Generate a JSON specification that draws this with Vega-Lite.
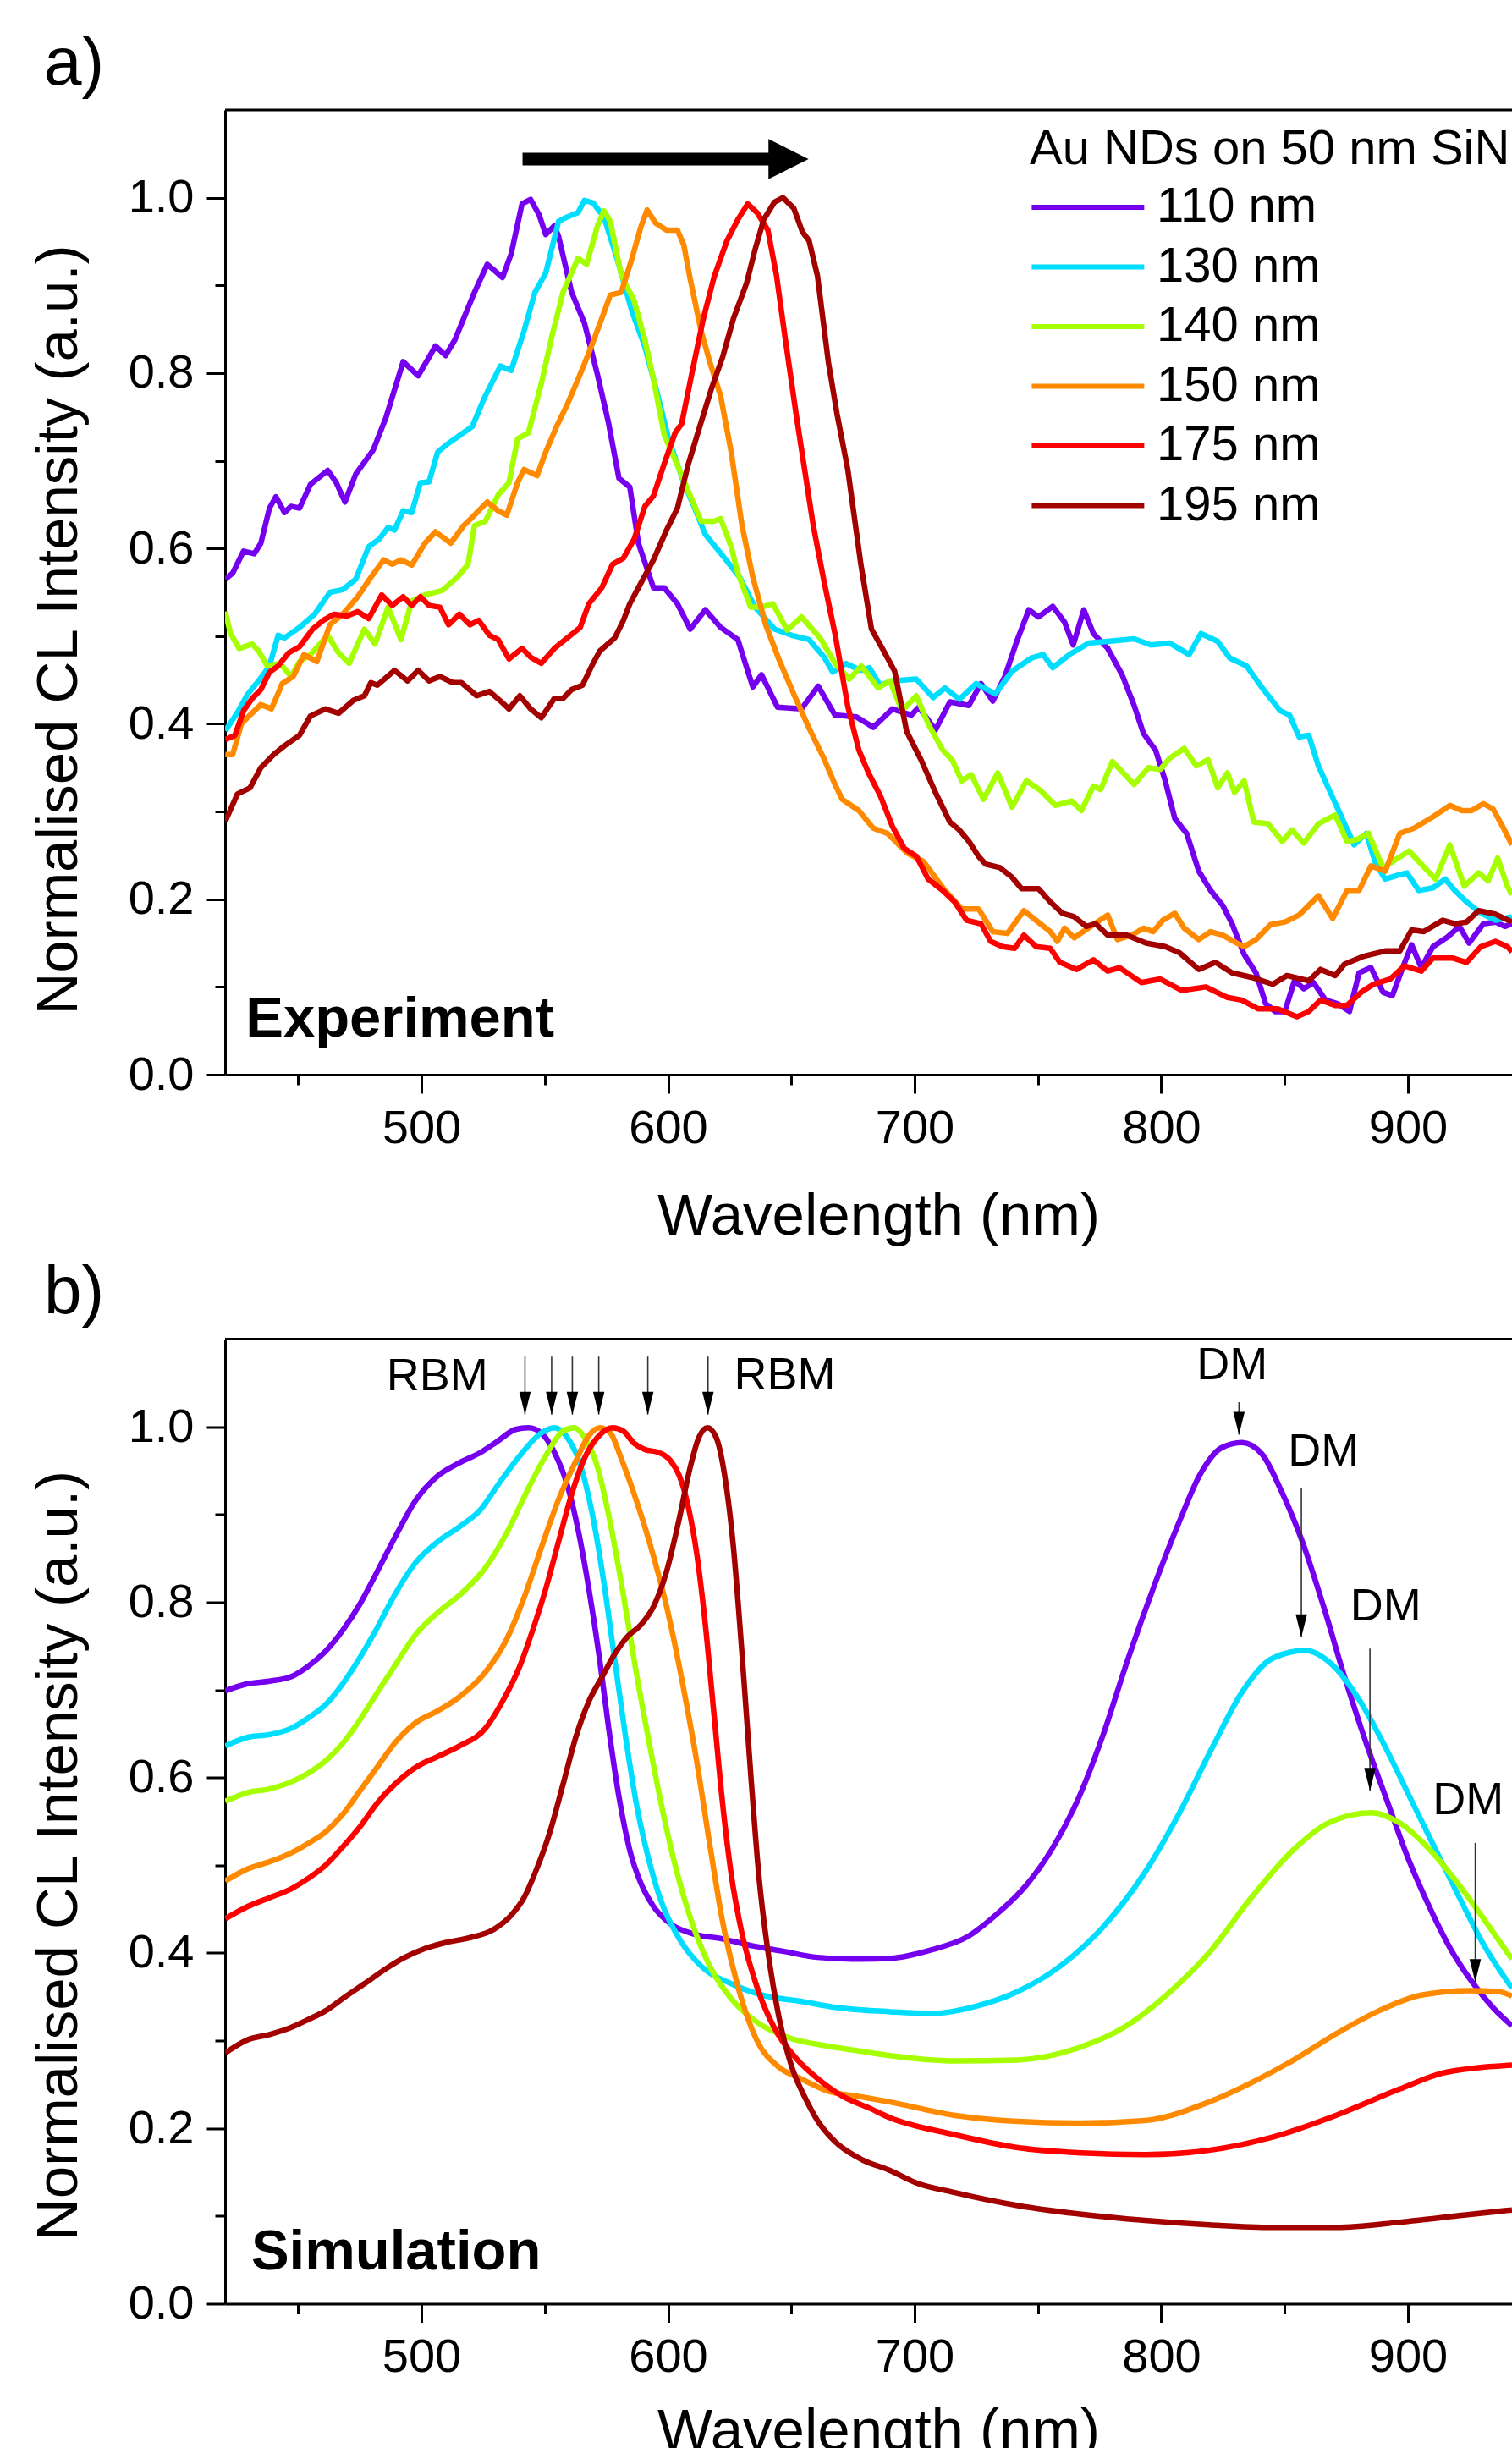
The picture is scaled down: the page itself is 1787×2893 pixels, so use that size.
{
"$schema":"https://vega.github.io/schema/vega-lite/v6.json",
"background":"white",
"padding":{"left":35,"top":36,"right":0,"bottom":0},
"config":{"font":"Liberation Sans","view":{"stroke":null},"concat":{"spacing":15.5},
"axis":{"domainColor":"black","domainWidth":3,"tickColor":"black","tickWidth":3,"labelColor":"black","titleColor":"black","labelFontSize":56,"titleFontSize":69,"titleFontWeight":"normal","grid":false,"labelFont":"Liberation Sans","titleFont":"Liberation Sans"},
"title":{"color":"black","font":"Liberation Sans"}},
"resolve":{"scale":{"color":"independent","x":"independent","y":"independent"},"legend":{"color":"independent"}},
"datasets":{
"expt":[
{"s":"110 nm","x":420.5,"y":0.565},{"s":"110 nm","x":423.5,"y":0.572},{"s":"110 nm","x":427.9,"y":0.597},{"s":"110 nm","x":432.2,"y":0.594},{"s":"110 nm","x":434.9,"y":0.606},{"s":"110 nm","x":438.4,"y":0.646},{"s":"110 nm","x":441,"y":0.659},{"s":"110 nm","x":444.5,"y":0.641},{"s":"110 nm","x":447.1,"y":0.648},{"s":"110 nm","x":450.6,"y":0.646},{"s":"110 nm","x":455,"y":0.673},{"s":"110 nm","x":462,"y":0.689},{"s":"110 nm","x":465.5,"y":0.675},{"s":"110 nm","x":469,"y":0.653},{"s":"110 nm","x":473.4,"y":0.685},{"s":"110 nm","x":480.4,"y":0.712},{"s":"110 nm","x":485.6,"y":0.749},{"s":"110 nm","x":492.6,"y":0.813},{"s":"110 nm","x":498.7,"y":0.797},{"s":"110 nm","x":503.1,"y":0.818},{"s":"110 nm","x":505.7,"y":0.831},{"s":"110 nm","x":509.8,"y":0.82},{"s":"110 nm","x":513.6,"y":0.838},{"s":"110 nm","x":521.5,"y":0.892},{"s":"110 nm","x":526.7,"y":0.924},{"s":"110 nm","x":532.9,"y":0.909},{"s":"110 nm","x":536.4,"y":0.936},{"s":"110 nm","x":540.8,"y":0.993},{"s":"110 nm","x":544.3,"y":0.998},{"s":"110 nm","x":547.8,"y":0.98},{"s":"110 nm","x":550.4,"y":0.958},{"s":"110 nm","x":553.9,"y":0.968},{"s":"110 nm","x":555.6,"y":0.956},{"s":"110 nm","x":560.9,"y":0.892},{"s":"110 nm","x":566.1,"y":0.857},{"s":"110 nm","x":571.4,"y":0.798},{"s":"110 nm","x":575.8,"y":0.744},{"s":"110 nm","x":580.1,"y":0.68},{"s":"110 nm","x":584.5,"y":0.67},{"s":"110 nm","x":588,"y":0.606},{"s":"110 nm","x":594.1,"y":0.555},{"s":"110 nm","x":598.5,"y":0.555},{"s":"110 nm","x":603.8,"y":0.537},{"s":"110 nm","x":609,"y":0.508},{"s":"110 nm","x":615.1,"y":0.53},{"s":"110 nm","x":621.3,"y":0.51},{"s":"110 nm","x":628.3,"y":0.496},{"s":"110 nm","x":634.4,"y":0.442},{"s":"110 nm","x":637.9,"y":0.456},{"s":"110 nm","x":644.4,"y":0.419},{"s":"110 nm","x":654.1,"y":0.417},{"s":"110 nm","x":660.9,"y":0.443},{"s":"110 nm","x":667.7,"y":0.41},{"s":"110 nm","x":676.4,"y":0.408},{"s":"110 nm","x":683.2,"y":0.396},{"s":"110 nm","x":691,"y":0.417},{"s":"110 nm","x":698.7,"y":0.41},{"s":"110 nm","x":701.7,"y":0.419},{"s":"110 nm","x":708.4,"y":0.393},{"s":"110 nm","x":714.3,"y":0.425},{"s":"110 nm","x":722,"y":0.421},{"s":"110 nm","x":726.9,"y":0.446},{"s":"110 nm","x":731.7,"y":0.426},{"s":"110 nm","x":736.6,"y":0.454},{"s":"110 nm","x":741.4,"y":0.494},{"s":"110 nm","x":746.3,"y":0.53},{"s":"110 nm","x":750.2,"y":0.522},{"s":"110 nm","x":756,"y":0.534},{"s":"110 nm","x":760.8,"y":0.516},{"s":"110 nm","x":764.3,"y":0.49},{"s":"110 nm","x":768.6,"y":0.53},{"s":"110 nm","x":772.5,"y":0.503},{"s":"110 nm","x":778.3,"y":0.486},{"s":"110 nm","x":784.1,"y":0.456},{"s":"110 nm","x":789,"y":0.421},{"s":"110 nm","x":792.8,"y":0.389},{"s":"110 nm","x":797.7,"y":0.37},{"s":"110 nm","x":801.6,"y":0.335},{"s":"110 nm","x":805.5,"y":0.292},{"s":"110 nm","x":810.3,"y":0.275},{"s":"110 nm","x":815.2,"y":0.232},{"s":"110 nm","x":820,"y":0.21},{"s":"110 nm","x":824.9,"y":0.193},{"s":"110 nm","x":828.7,"y":0.172},{"s":"110 nm","x":833.6,"y":0.137},{"s":"110 nm","x":838.4,"y":0.116},{"s":"110 nm","x":842.3,"y":0.081},{"s":"110 nm","x":846.2,"y":0.072},{"s":"110 nm","x":850.1,"y":0.072},{"s":"110 nm","x":854,"y":0.107},{"s":"110 nm","x":857.8,"y":0.098},{"s":"110 nm","x":861.7,"y":0.105},{"s":"110 nm","x":866.6,"y":0.085},{"s":"110 nm","x":871.4,"y":0.081},{"s":"110 nm","x":876.3,"y":0.072},{"s":"110 nm","x":880.2,"y":0.116},{"s":"110 nm","x":885,"y":0.122},{"s":"110 nm","x":889.9,"y":0.094},{"s":"110 nm","x":893.7,"y":0.09},{"s":"110 nm","x":897.6,"y":0.12},{"s":"110 nm","x":901.5,"y":0.148},{"s":"110 nm","x":905.4,"y":0.122},{"s":"110 nm","x":910.2,"y":0.146},{"s":"110 nm","x":916.1,"y":0.157},{"s":"110 nm","x":920.9,"y":0.169},{"s":"110 nm","x":924.8,"y":0.15},{"s":"110 nm","x":930.6,"y":0.172},{"s":"110 nm","x":935.5,"y":0.174},{"s":"110 nm","x":939.3,"y":0.169},{"s":"110 nm","x":942.2,"y":0.172},
{"s":"130 nm","x":420.5,"y":0.392},{"s":"130 nm","x":425.2,"y":0.412},{"s":"130 nm","x":429.6,"y":0.434},{"s":"130 nm","x":434,"y":0.449},{"s":"130 nm","x":438.4,"y":0.466},{"s":"130 nm","x":441.9,"y":0.501},{"s":"130 nm","x":444.5,"y":0.498},{"s":"130 nm","x":450.6,"y":0.51},{"s":"130 nm","x":456.7,"y":0.525},{"s":"130 nm","x":462.9,"y":0.55},{"s":"130 nm","x":468.1,"y":0.553},{"s":"130 nm","x":473.4,"y":0.565},{"s":"130 nm","x":478.6,"y":0.602},{"s":"130 nm","x":483,"y":0.611},{"s":"130 nm","x":486.5,"y":0.624},{"s":"130 nm","x":489.1,"y":0.621},{"s":"130 nm","x":492.6,"y":0.643},{"s":"130 nm","x":496.1,"y":0.641},{"s":"130 nm","x":499.6,"y":0.675},{"s":"130 nm","x":503.1,"y":0.676},{"s":"130 nm","x":506.6,"y":0.71},{"s":"130 nm","x":511,"y":0.72},{"s":"130 nm","x":514.5,"y":0.727},{"s":"130 nm","x":520.6,"y":0.739},{"s":"130 nm","x":525.9,"y":0.774},{"s":"130 nm","x":532,"y":0.808},{"s":"130 nm","x":536.4,"y":0.803},{"s":"130 nm","x":541.6,"y":0.848},{"s":"130 nm","x":546,"y":0.892},{"s":"130 nm","x":550.4,"y":0.914},{"s":"130 nm","x":555.6,"y":0.973},{"s":"130 nm","x":559.1,"y":0.978},{"s":"130 nm","x":563.5,"y":0.983},{"s":"130 nm","x":566.1,"y":0.997},{"s":"130 nm","x":569.6,"y":0.994},{"s":"130 nm","x":574,"y":0.978},{"s":"130 nm","x":579.3,"y":0.931},{"s":"130 nm","x":585.4,"y":0.87},{"s":"130 nm","x":590.6,"y":0.83},{"s":"130 nm","x":595.9,"y":0.774},{"s":"130 nm","x":600.3,"y":0.724},{"s":"130 nm","x":606.4,"y":0.675},{"s":"130 nm","x":610.8,"y":0.646},{"s":"130 nm","x":615.1,"y":0.616},{"s":"130 nm","x":622.1,"y":0.592},{"s":"130 nm","x":629.1,"y":0.567},{"s":"130 nm","x":635.3,"y":0.533},{"s":"130 nm","x":643.2,"y":0.508},{"s":"130 nm","x":650.2,"y":0.501},{"s":"130 nm","x":657.2,"y":0.496},{"s":"130 nm","x":663.3,"y":0.476},{"s":"130 nm","x":666.8,"y":0.459},{"s":"130 nm","x":672,"y":0.469},{"s":"130 nm","x":678.2,"y":0.461},{"s":"130 nm","x":681.7,"y":0.464},{"s":"130 nm","x":686,"y":0.444},{"s":"130 nm","x":691,"y":0.449},{"s":"130 nm","x":700.7,"y":0.451},{"s":"130 nm","x":707.5,"y":0.43},{"s":"130 nm","x":712.3,"y":0.441},{"s":"130 nm","x":718.2,"y":0.428},{"s":"130 nm","x":724.9,"y":0.446},{"s":"130 nm","x":732.7,"y":0.434},{"s":"130 nm","x":739.5,"y":0.46},{"s":"130 nm","x":747.3,"y":0.475},{"s":"130 nm","x":752.1,"y":0.479},{"s":"130 nm","x":756,"y":0.464},{"s":"130 nm","x":762.8,"y":0.479},{"s":"130 nm","x":770.5,"y":0.492},{"s":"130 nm","x":778.3,"y":0.494},{"s":"130 nm","x":789,"y":0.497},{"s":"130 nm","x":795.8,"y":0.49},{"s":"130 nm","x":803.5,"y":0.492},{"s":"130 nm","x":811.3,"y":0.479},{"s":"130 nm","x":816.1,"y":0.503},{"s":"130 nm","x":822.9,"y":0.494},{"s":"130 nm","x":827.8,"y":0.475},{"s":"130 nm","x":834.6,"y":0.466},{"s":"130 nm","x":840.4,"y":0.443},{"s":"130 nm","x":848.2,"y":0.415},{"s":"130 nm","x":852,"y":0.41},{"s":"130 nm","x":855.9,"y":0.385},{"s":"130 nm","x":859.8,"y":0.387},{"s":"130 nm","x":863.7,"y":0.352},{"s":"130 nm","x":868.5,"y":0.322},{"s":"130 nm","x":873.4,"y":0.292},{"s":"130 nm","x":878.2,"y":0.262},{"s":"130 nm","x":883.1,"y":0.275},{"s":"130 nm","x":887,"y":0.24},{"s":"130 nm","x":890.8,"y":0.223},{"s":"130 nm","x":896.7,"y":0.228},{"s":"130 nm","x":899.6,"y":0.23},{"s":"130 nm","x":904.4,"y":0.21},{"s":"130 nm","x":910.2,"y":0.213},{"s":"130 nm","x":915.1,"y":0.223},{"s":"130 nm","x":919,"y":0.21},{"s":"130 nm","x":923.8,"y":0.197},{"s":"130 nm","x":929.6,"y":0.184},{"s":"130 nm","x":935.5,"y":0.176},{"s":"130 nm","x":942.2,"y":0.18},
{"s":"140 nm","x":420.5,"y":0.528},{"s":"140 nm","x":422.6,"y":0.503},{"s":"140 nm","x":426.1,"y":0.486},{"s":"140 nm","x":431.4,"y":0.491},{"s":"140 nm","x":434,"y":0.483},{"s":"140 nm","x":437.5,"y":0.466},{"s":"140 nm","x":442.7,"y":0.469},{"s":"140 nm","x":447.1,"y":0.454},{"s":"140 nm","x":450.6,"y":0.471},{"s":"140 nm","x":455,"y":0.479},{"s":"140 nm","x":462,"y":0.501},{"s":"140 nm","x":466.4,"y":0.481},{"s":"140 nm","x":470.7,"y":0.469},{"s":"140 nm","x":476.9,"y":0.508},{"s":"140 nm","x":481.2,"y":0.491},{"s":"140 nm","x":486.5,"y":0.533},{"s":"140 nm","x":491.7,"y":0.496},{"s":"140 nm","x":496.1,"y":0.54},{"s":"140 nm","x":501.4,"y":0.547},{"s":"140 nm","x":508.4,"y":0.552},{"s":"140 nm","x":514.5,"y":0.567},{"s":"140 nm","x":518.9,"y":0.582},{"s":"140 nm","x":521.5,"y":0.626},{"s":"140 nm","x":525.9,"y":0.631},{"s":"140 nm","x":531.1,"y":0.661},{"s":"140 nm","x":535.5,"y":0.675},{"s":"140 nm","x":539,"y":0.725},{"s":"140 nm","x":543.4,"y":0.732},{"s":"140 nm","x":548.6,"y":0.788},{"s":"140 nm","x":553,"y":0.843},{"s":"140 nm","x":557.4,"y":0.892},{"s":"140 nm","x":563.5,"y":0.931},{"s":"140 nm","x":567,"y":0.924},{"s":"140 nm","x":571.4,"y":0.968},{"s":"140 nm","x":574,"y":0.985},{"s":"140 nm","x":576.6,"y":0.973},{"s":"140 nm","x":581,"y":0.912},{"s":"140 nm","x":586.3,"y":0.882},{"s":"140 nm","x":590.6,"y":0.838},{"s":"140 nm","x":594.1,"y":0.793},{"s":"140 nm","x":598.5,"y":0.729},{"s":"140 nm","x":603.8,"y":0.695},{"s":"140 nm","x":608.1,"y":0.666},{"s":"140 nm","x":613.4,"y":0.631},{"s":"140 nm","x":618.6,"y":0.631},{"s":"140 nm","x":621.3,"y":0.634},{"s":"140 nm","x":625.6,"y":0.602},{"s":"140 nm","x":628.3,"y":0.572},{"s":"140 nm","x":633.5,"y":0.533},{"s":"140 nm","x":637.9,"y":0.533},{"s":"140 nm","x":642.5,"y":0.537},{"s":"140 nm","x":648.3,"y":0.507},{"s":"140 nm","x":654.1,"y":0.522},{"s":"140 nm","x":661.9,"y":0.497},{"s":"140 nm","x":667.7,"y":0.469},{"s":"140 nm","x":673.5,"y":0.451},{"s":"140 nm","x":678.4,"y":0.466},{"s":"140 nm","x":685.2,"y":0.441},{"s":"140 nm","x":690,"y":0.449},{"s":"140 nm","x":694.9,"y":0.415},{"s":"140 nm","x":700.7,"y":0.432},{"s":"140 nm","x":705.5,"y":0.4},{"s":"140 nm","x":711.4,"y":0.37},{"s":"140 nm","x":715.2,"y":0.359},{"s":"140 nm","x":719.1,"y":0.335},{"s":"140 nm","x":723,"y":0.342},{"s":"140 nm","x":727.9,"y":0.314},{"s":"140 nm","x":733.7,"y":0.344},{"s":"140 nm","x":739.5,"y":0.305},{"s":"140 nm","x":745.3,"y":0.335},{"s":"140 nm","x":751.1,"y":0.324},{"s":"140 nm","x":757,"y":0.307},{"s":"140 nm","x":763.7,"y":0.312},{"s":"140 nm","x":767.6,"y":0.301},{"s":"140 nm","x":772.5,"y":0.329},{"s":"140 nm","x":775.4,"y":0.325},{"s":"140 nm","x":780.2,"y":0.357},{"s":"140 nm","x":789,"y":0.331},{"s":"140 nm","x":794.8,"y":0.35},{"s":"140 nm","x":799.6,"y":0.348},{"s":"140 nm","x":803.5,"y":0.361},{"s":"140 nm","x":809.3,"y":0.372},{"s":"140 nm","x":814.2,"y":0.352},{"s":"140 nm","x":819,"y":0.359},{"s":"140 nm","x":822.9,"y":0.327},{"s":"140 nm","x":826.8,"y":0.344},{"s":"140 nm","x":829.7,"y":0.322},{"s":"140 nm","x":833.6,"y":0.335},{"s":"140 nm","x":837.5,"y":0.288},{"s":"140 nm","x":843.3,"y":0.286},{"s":"140 nm","x":849.1,"y":0.266},{"s":"140 nm","x":853,"y":0.279},{"s":"140 nm","x":857.8,"y":0.264},{"s":"140 nm","x":863.7,"y":0.286},{"s":"140 nm","x":870.5,"y":0.296},{"s":"140 nm","x":875.3,"y":0.266},{"s":"140 nm","x":879.2,"y":0.268},{"s":"140 nm","x":884,"y":0.275},{"s":"140 nm","x":889.9,"y":0.236},{"s":"140 nm","x":900.5,"y":0.255},{"s":"140 nm","x":905.4,"y":0.24},{"s":"140 nm","x":911.2,"y":0.223},{"s":"140 nm","x":917,"y":0.262},{"s":"140 nm","x":922.8,"y":0.215},{"s":"140 nm","x":928.7,"y":0.23},{"s":"140 nm","x":932.5,"y":0.221},{"s":"140 nm","x":936.4,"y":0.247},{"s":"140 nm","x":940.3,"y":0.215},{"s":"140 nm","x":942.2,"y":0.205},
{"s":"150 nm","x":420.5,"y":0.365},{"s":"150 nm","x":423.5,"y":0.365},{"s":"150 nm","x":427,"y":0.4},{"s":"150 nm","x":430.5,"y":0.41},{"s":"150 nm","x":434.9,"y":0.422},{"s":"150 nm","x":439.2,"y":0.417},{"s":"150 nm","x":443.6,"y":0.446},{"s":"150 nm","x":448,"y":0.454},{"s":"150 nm","x":452.4,"y":0.479},{"s":"150 nm","x":457.6,"y":0.471},{"s":"150 nm","x":462.9,"y":0.513},{"s":"150 nm","x":468.1,"y":0.525},{"s":"150 nm","x":474.2,"y":0.545},{"s":"150 nm","x":479.5,"y":0.567},{"s":"150 nm","x":484.7,"y":0.587},{"s":"150 nm","x":488.2,"y":0.582},{"s":"150 nm","x":491.7,"y":0.587},{"s":"150 nm","x":496.1,"y":0.581},{"s":"150 nm","x":501.4,"y":0.606},{"s":"150 nm","x":505.7,"y":0.619},{"s":"150 nm","x":511.9,"y":0.606},{"s":"150 nm","x":517.1,"y":0.626},{"s":"150 nm","x":521.5,"y":0.638},{"s":"150 nm","x":526.7,"y":0.653},{"s":"150 nm","x":531.1,"y":0.643},{"s":"150 nm","x":534.6,"y":0.638},{"s":"150 nm","x":539,"y":0.675},{"s":"150 nm","x":541.6,"y":0.69},{"s":"150 nm","x":546.9,"y":0.683},{"s":"150 nm","x":550.4,"y":0.71},{"s":"150 nm","x":554.8,"y":0.739},{"s":"150 nm","x":559.1,"y":0.764},{"s":"150 nm","x":563.5,"y":0.793},{"s":"150 nm","x":567.9,"y":0.823},{"s":"150 nm","x":573.1,"y":0.862},{"s":"150 nm","x":576.6,"y":0.889},{"s":"150 nm","x":581,"y":0.892},{"s":"150 nm","x":585.4,"y":0.931},{"s":"150 nm","x":588.9,"y":0.966},{"s":"150 nm","x":591.5,"y":0.986},{"s":"150 nm","x":595,"y":0.971},{"s":"150 nm","x":599.4,"y":0.963},{"s":"150 nm","x":603.8,"y":0.963},{"s":"150 nm","x":606.4,"y":0.946},{"s":"150 nm","x":609,"y":0.907},{"s":"150 nm","x":613.4,"y":0.848},{"s":"150 nm","x":616.9,"y":0.813},{"s":"150 nm","x":621.3,"y":0.774},{"s":"150 nm","x":625.6,"y":0.71},{"s":"150 nm","x":630,"y":0.626},{"s":"150 nm","x":634.4,"y":0.567},{"s":"150 nm","x":639.6,"y":0.513},{"s":"150 nm","x":644.9,"y":0.474},{"s":"150 nm","x":651,"y":0.434},{"s":"150 nm","x":657.2,"y":0.395},{"s":"150 nm","x":663.3,"y":0.36},{"s":"150 nm","x":667.7,"y":0.331},{"s":"150 nm","x":670.6,"y":0.314},{"s":"150 nm","x":677.4,"y":0.301},{"s":"150 nm","x":683.2,"y":0.281},{"s":"150 nm","x":689,"y":0.275},{"s":"150 nm","x":696.8,"y":0.253},{"s":"150 nm","x":703.6,"y":0.243},{"s":"150 nm","x":712.3,"y":0.21},{"s":"150 nm","x":719.1,"y":0.189},{"s":"150 nm","x":725.9,"y":0.189},{"s":"150 nm","x":731.7,"y":0.163},{"s":"150 nm","x":737.6,"y":0.161},{"s":"150 nm","x":744.3,"y":0.187},{"s":"150 nm","x":749.2,"y":0.176},{"s":"150 nm","x":755,"y":0.163},{"s":"150 nm","x":757.9,"y":0.152},{"s":"150 nm","x":760.8,"y":0.167},{"s":"150 nm","x":764.7,"y":0.156},{"s":"150 nm","x":772.5,"y":0.171},{"s":"150 nm","x":778.3,"y":0.182},{"s":"150 nm","x":782.2,"y":0.154},{"s":"150 nm","x":788,"y":0.159},{"s":"150 nm","x":792.8,"y":0.167},{"s":"150 nm","x":796.7,"y":0.163},{"s":"150 nm","x":800.6,"y":0.176},{"s":"150 nm","x":805.5,"y":0.184},{"s":"150 nm","x":809.3,"y":0.167},{"s":"150 nm","x":815.2,"y":0.154},{"s":"150 nm","x":820,"y":0.163},{"s":"150 nm","x":824.9,"y":0.159},{"s":"150 nm","x":830.7,"y":0.15},{"s":"150 nm","x":833.6,"y":0.146},{"s":"150 nm","x":838.4,"y":0.154},{"s":"150 nm","x":844.3,"y":0.171},{"s":"150 nm","x":850.1,"y":0.174},{"s":"150 nm","x":855.9,"y":0.182},{"s":"150 nm","x":863.7,"y":0.204},{"s":"150 nm","x":869.5,"y":0.178},{"s":"150 nm","x":875.3,"y":0.21},{"s":"150 nm","x":880.2,"y":0.21},{"s":"150 nm","x":885,"y":0.238},{"s":"150 nm","x":890.8,"y":0.232},{"s":"150 nm","x":896.7,"y":0.275},{"s":"150 nm","x":902.5,"y":0.281},{"s":"150 nm","x":910.2,"y":0.294},{"s":"150 nm","x":917,"y":0.307},{"s":"150 nm","x":921.9,"y":0.301},{"s":"150 nm","x":925.8,"y":0.301},{"s":"150 nm","x":930.6,"y":0.309},{"s":"150 nm","x":934.5,"y":0.303},{"s":"150 nm","x":938.4,"y":0.283},{"s":"150 nm","x":942.2,"y":0.262},
{"s":"175 nm","x":420.5,"y":0.382},{"s":"175 nm","x":424.4,"y":0.387},{"s":"175 nm","x":427.9,"y":0.415},{"s":"175 nm","x":431.4,"y":0.429},{"s":"175 nm","x":434.9,"y":0.439},{"s":"175 nm","x":438.4,"y":0.459},{"s":"175 nm","x":441.9,"y":0.466},{"s":"175 nm","x":446.2,"y":0.481},{"s":"175 nm","x":450.6,"y":0.488},{"s":"175 nm","x":455.9,"y":0.508},{"s":"175 nm","x":460.2,"y":0.518},{"s":"175 nm","x":464.6,"y":0.525},{"s":"175 nm","x":469.9,"y":0.523},{"s":"175 nm","x":474.2,"y":0.528},{"s":"175 nm","x":478.6,"y":0.52},{"s":"175 nm","x":483.9,"y":0.547},{"s":"175 nm","x":488.2,"y":0.535},{"s":"175 nm","x":492.6,"y":0.545},{"s":"175 nm","x":496.1,"y":0.535},{"s":"175 nm","x":499.6,"y":0.545},{"s":"175 nm","x":503.1,"y":0.535},{"s":"175 nm","x":507.5,"y":0.533},{"s":"175 nm","x":511,"y":0.513},{"s":"175 nm","x":515.4,"y":0.525},{"s":"175 nm","x":519.7,"y":0.513},{"s":"175 nm","x":523.2,"y":0.518},{"s":"175 nm","x":527.6,"y":0.501},{"s":"175 nm","x":531.1,"y":0.496},{"s":"175 nm","x":535.5,"y":0.474},{"s":"175 nm","x":540.8,"y":0.486},{"s":"175 nm","x":544.3,"y":0.476},{"s":"175 nm","x":548.6,"y":0.469},{"s":"175 nm","x":553.9,"y":0.486},{"s":"175 nm","x":559.1,"y":0.498},{"s":"175 nm","x":564.4,"y":0.51},{"s":"175 nm","x":567.9,"y":0.537},{"s":"175 nm","x":573.1,"y":0.555},{"s":"175 nm","x":577.5,"y":0.582},{"s":"175 nm","x":581.9,"y":0.589},{"s":"175 nm","x":586.3,"y":0.611},{"s":"175 nm","x":590.6,"y":0.648},{"s":"175 nm","x":594.1,"y":0.66},{"s":"175 nm","x":598.5,"y":0.697},{"s":"175 nm","x":602.9,"y":0.732},{"s":"175 nm","x":605.5,"y":0.742},{"s":"175 nm","x":609.9,"y":0.803},{"s":"175 nm","x":614.3,"y":0.862},{"s":"175 nm","x":618.6,"y":0.909},{"s":"175 nm","x":623.9,"y":0.951},{"s":"175 nm","x":628.3,"y":0.975},{"s":"175 nm","x":632.3,"y":0.993},{"s":"175 nm","x":636.1,"y":0.983},{"s":"175 nm","x":640.5,"y":0.963},{"s":"175 nm","x":644,"y":0.911},{"s":"175 nm","x":647.6,"y":0.838},{"s":"175 nm","x":651.9,"y":0.754},{"s":"175 nm","x":655.4,"y":0.69},{"s":"175 nm","x":658.9,"y":0.626},{"s":"175 nm","x":663.3,"y":0.562},{"s":"175 nm","x":667.7,"y":0.503},{"s":"175 nm","x":672.9,"y":0.42},{"s":"175 nm","x":677.4,"y":0.37},{"s":"175 nm","x":681.3,"y":0.344},{"s":"175 nm","x":686.1,"y":0.318},{"s":"175 nm","x":691,"y":0.283},{"s":"175 nm","x":695.8,"y":0.258},{"s":"175 nm","x":700.7,"y":0.249},{"s":"175 nm","x":705.5,"y":0.223},{"s":"175 nm","x":711.4,"y":0.21},{"s":"175 nm","x":716.2,"y":0.197},{"s":"175 nm","x":721.1,"y":0.176},{"s":"175 nm","x":726.9,"y":0.172},{"s":"175 nm","x":730.8,"y":0.152},{"s":"175 nm","x":735.6,"y":0.146},{"s":"175 nm","x":740.5,"y":0.144},{"s":"175 nm","x":744.3,"y":0.159},{"s":"175 nm","x":749.2,"y":0.146},{"s":"175 nm","x":755,"y":0.144},{"s":"175 nm","x":758.9,"y":0.128},{"s":"175 nm","x":765.7,"y":0.12},{"s":"175 nm","x":772.5,"y":0.131},{"s":"175 nm","x":778.3,"y":0.118},{"s":"175 nm","x":783.1,"y":0.122},{"s":"175 nm","x":791.9,"y":0.105},{"s":"175 nm","x":799.6,"y":0.109},{"s":"175 nm","x":808.4,"y":0.096},{"s":"175 nm","x":818.1,"y":0.1},{"s":"175 nm","x":826.8,"y":0.088},{"s":"175 nm","x":832.6,"y":0.085},{"s":"175 nm","x":839.4,"y":0.075},{"s":"175 nm","x":847.2,"y":0.075},{"s":"175 nm","x":855,"y":0.066},{"s":"175 nm","x":859.8,"y":0.072},{"s":"175 nm","x":864.6,"y":0.085},{"s":"175 nm","x":870.5,"y":0.079},{"s":"175 nm","x":875.3,"y":0.079},{"s":"175 nm","x":881.1,"y":0.094},{"s":"175 nm","x":886,"y":0.103},{"s":"175 nm","x":892.8,"y":0.109},{"s":"175 nm","x":898.6,"y":0.124},{"s":"175 nm","x":905.4,"y":0.118},{"s":"175 nm","x":910.2,"y":0.133},{"s":"175 nm","x":918,"y":0.133},{"s":"175 nm","x":923.8,"y":0.128},{"s":"175 nm","x":929.6,"y":0.146},{"s":"175 nm","x":935.5,"y":0.152},{"s":"175 nm","x":940.3,"y":0.146},{"s":"175 nm","x":942.2,"y":0.14},
{"s":"195 nm","x":420.5,"y":0.289},{"s":"195 nm","x":425.4,"y":0.32},{"s":"195 nm","x":430.5,"y":0.327},{"s":"195 nm","x":434.9,"y":0.35},{"s":"195 nm","x":440.1,"y":0.365},{"s":"195 nm","x":444.5,"y":0.375},{"s":"195 nm","x":450.6,"y":0.387},{"s":"195 nm","x":455,"y":0.409},{"s":"195 nm","x":461.1,"y":0.417},{"s":"195 nm","x":466.4,"y":0.412},{"s":"195 nm","x":472.5,"y":0.427},{"s":"195 nm","x":476.9,"y":0.432},{"s":"195 nm","x":479.5,"y":0.447},{"s":"195 nm","x":482.1,"y":0.444},{"s":"195 nm","x":489.1,"y":0.461},{"s":"195 nm","x":494.4,"y":0.449},{"s":"195 nm","x":498.7,"y":0.461},{"s":"195 nm","x":503.1,"y":0.449},{"s":"195 nm","x":507.5,"y":0.454},{"s":"195 nm","x":512.7,"y":0.447},{"s":"195 nm","x":516.2,"y":0.447},{"s":"195 nm","x":522.4,"y":0.432},{"s":"195 nm","x":527.6,"y":0.437},{"s":"195 nm","x":532.9,"y":0.424},{"s":"195 nm","x":535.5,"y":0.417},{"s":"195 nm","x":539.9,"y":0.432},{"s":"195 nm","x":544.3,"y":0.417},{"s":"195 nm","x":548.6,"y":0.407},{"s":"195 nm","x":553.9,"y":0.429},{"s":"195 nm","x":557.4,"y":0.429},{"s":"195 nm","x":560.9,"y":0.439},{"s":"195 nm","x":565.3,"y":0.444},{"s":"195 nm","x":569.6,"y":0.469},{"s":"195 nm","x":572.3,"y":0.483},{"s":"195 nm","x":578.4,"y":0.498},{"s":"195 nm","x":581.9,"y":0.518},{"s":"195 nm","x":584.5,"y":0.537},{"s":"195 nm","x":588.9,"y":0.56},{"s":"195 nm","x":594.1,"y":0.587},{"s":"195 nm","x":599.4,"y":0.621},{"s":"195 nm","x":603.8,"y":0.646},{"s":"195 nm","x":608.1,"y":0.695},{"s":"195 nm","x":613.4,"y":0.744},{"s":"195 nm","x":617.8,"y":0.784},{"s":"195 nm","x":622.1,"y":0.818},{"s":"195 nm","x":626.5,"y":0.862},{"s":"195 nm","x":631.8,"y":0.902},{"s":"195 nm","x":635.3,"y":0.941},{"s":"195 nm","x":638.8,"y":0.975},{"s":"195 nm","x":643.2,"y":0.995},{"s":"195 nm","x":646.6,"y":1.0},{"s":"195 nm","x":651,"y":0.988},{"s":"195 nm","x":654.5,"y":0.961},{"s":"195 nm","x":657.2,"y":0.951},{"s":"195 nm","x":660.6,"y":0.911},{"s":"195 nm","x":665,"y":0.813},{"s":"195 nm","x":668.5,"y":0.754},{"s":"195 nm","x":672.9,"y":0.69},{"s":"195 nm","x":678.2,"y":0.582},{"s":"195 nm","x":682.5,"y":0.508},{"s":"195 nm","x":687.1,"y":0.485},{"s":"195 nm","x":691.9,"y":0.46},{"s":"195 nm","x":696.8,"y":0.391},{"s":"195 nm","x":702.6,"y":0.359},{"s":"195 nm","x":708.4,"y":0.322},{"s":"195 nm","x":714.3,"y":0.288},{"s":"195 nm","x":718.1,"y":0.279},{"s":"195 nm","x":722,"y":0.266},{"s":"195 nm","x":725.9,"y":0.249},{"s":"195 nm","x":728.8,"y":0.24},{"s":"195 nm","x":734.6,"y":0.236},{"s":"195 nm","x":739.5,"y":0.225},{"s":"195 nm","x":743.4,"y":0.212},{"s":"195 nm","x":750.2,"y":0.212},{"s":"195 nm","x":755,"y":0.197},{"s":"195 nm","x":759.9,"y":0.184},{"s":"195 nm","x":764.7,"y":0.18},{"s":"195 nm","x":769.6,"y":0.169},{"s":"195 nm","x":773.4,"y":0.172},{"s":"195 nm","x":778.3,"y":0.159},{"s":"195 nm","x":786.1,"y":0.159},{"s":"195 nm","x":793.8,"y":0.15},{"s":"195 nm","x":801.6,"y":0.146},{"s":"195 nm","x":807.4,"y":0.139},{"s":"195 nm","x":815.2,"y":0.12},{"s":"195 nm","x":822,"y":0.128},{"s":"195 nm","x":828.7,"y":0.116},{"s":"195 nm","x":836.5,"y":0.111},{"s":"195 nm","x":845.2,"y":0.103},{"s":"195 nm","x":851,"y":0.113},{"s":"195 nm","x":859.8,"y":0.107},{"s":"195 nm","x":864.6,"y":0.12},{"s":"195 nm","x":870.5,"y":0.113},{"s":"195 nm","x":874.3,"y":0.126},{"s":"195 nm","x":882.1,"y":0.135},{"s":"195 nm","x":890.8,"y":0.141},{"s":"195 nm","x":896.7,"y":0.141},{"s":"195 nm","x":901.5,"y":0.165},{"s":"195 nm","x":906.4,"y":0.163},{"s":"195 nm","x":914.1,"y":0.176},{"s":"195 nm","x":919,"y":0.172},{"s":"195 nm","x":923.8,"y":0.174},{"s":"195 nm","x":928.7,"y":0.187},{"s":"195 nm","x":935.5,"y":0.183},{"s":"195 nm","x":942.2,"y":0.174}
],
"sim":[
{"s":"110 nm","x":420.5,"y":0.699},{"s":"110 nm","x":429.6,"y":0.707},{"s":"110 nm","x":438.4,"y":0.71},{"s":"110 nm","x":447.1,"y":0.715},{"s":"110 nm","x":454.1,"y":0.727},{"s":"110 nm","x":461.1,"y":0.744},{"s":"110 nm","x":468.1,"y":0.768},{"s":"110 nm","x":475.1,"y":0.798},{"s":"110 nm","x":482.1,"y":0.835},{"s":"110 nm","x":489.1,"y":0.873},{"s":"110 nm","x":497.9,"y":0.917},{"s":"110 nm","x":506.6,"y":0.944},{"s":"110 nm","x":515.4,"y":0.959},{"s":"110 nm","x":524.1,"y":0.971},{"s":"110 nm","x":531.1,"y":0.984},{"s":"110 nm","x":538.1,"y":0.997},{"s":"110 nm","x":543.4,"y":0.999},{"s":"110 nm","x":548.6,"y":0.993},{"s":"110 nm","x":553.9,"y":0.971},{"s":"110 nm","x":559.1,"y":0.934},{"s":"110 nm","x":563.5,"y":0.883},{"s":"110 nm","x":567.9,"y":0.815},{"s":"110 nm","x":572.3,"y":0.734},{"s":"110 nm","x":575.8,"y":0.659},{"s":"110 nm","x":580.1,"y":0.578},{"s":"110 nm","x":584.5,"y":0.517},{"s":"110 nm","x":588.9,"y":0.48},{"s":"110 nm","x":594.1,"y":0.453},{"s":"110 nm","x":601.1,"y":0.433},{"s":"110 nm","x":609.9,"y":0.422},{"s":"110 nm","x":622.1,"y":0.416},{"s":"110 nm","x":634.4,"y":0.408},{"s":"110 nm","x":646.6,"y":0.402},{"s":"110 nm","x":660.6,"y":0.395},{"s":"110 nm","x":674.7,"y":0.393},{"s":"110 nm","x":690.1,"y":0.394},{"s":"110 nm","x":707.3,"y":0.404},{"s":"110 nm","x":721.1,"y":0.418},{"s":"110 nm","x":733.2,"y":0.444},{"s":"110 nm","x":745.2,"y":0.477},{"s":"110 nm","x":755.6,"y":0.518},{"s":"110 nm","x":765.9,"y":0.573},{"s":"110 nm","x":776.2,"y":0.647},{"s":"110 nm","x":786.6,"y":0.736},{"s":"110 nm","x":796.9,"y":0.817},{"s":"110 nm","x":807.2,"y":0.891},{"s":"110 nm","x":815.8,"y":0.946},{"s":"110 nm","x":824.4,"y":0.976},{"s":"110 nm","x":832.7,"y":0.982},{"s":"110 nm","x":840.8,"y":0.969},{"s":"110 nm","x":848.5,"y":0.928},{"s":"110 nm","x":857.2,"y":0.869},{"s":"110 nm","x":865.8,"y":0.795},{"s":"110 nm","x":874.4,"y":0.714},{"s":"110 nm","x":883,"y":0.64},{"s":"110 nm","x":891.6,"y":0.573},{"s":"110 nm","x":900.2,"y":0.507},{"s":"110 nm","x":908.8,"y":0.452},{"s":"110 nm","x":917.4,"y":0.404},{"s":"110 nm","x":926,"y":0.367},{"s":"110 nm","x":934.7,"y":0.337},{"s":"110 nm","x":942.2,"y":0.317},
{"s":"130 nm","x":420.5,"y":0.636},{"s":"130 nm","x":429.6,"y":0.646},{"s":"130 nm","x":438.4,"y":0.649},{"s":"130 nm","x":447.1,"y":0.656},{"s":"130 nm","x":454.1,"y":0.668},{"s":"130 nm","x":461.1,"y":0.683},{"s":"130 nm","x":468.1,"y":0.707},{"s":"130 nm","x":475.1,"y":0.737},{"s":"130 nm","x":482.1,"y":0.771},{"s":"130 nm","x":489.1,"y":0.808},{"s":"130 nm","x":497.9,"y":0.846},{"s":"130 nm","x":506.6,"y":0.869},{"s":"130 nm","x":515.4,"y":0.886},{"s":"130 nm","x":524.1,"y":0.906},{"s":"130 nm","x":531.1,"y":0.934},{"s":"130 nm","x":539.9,"y":0.967},{"s":"130 nm","x":548.6,"y":0.993},{"s":"130 nm","x":553.9,"y":0.999},{"s":"130 nm","x":559.1,"y":0.988},{"s":"130 nm","x":564.4,"y":0.957},{"s":"130 nm","x":569.6,"y":0.896},{"s":"130 nm","x":574,"y":0.822},{"s":"130 nm","x":578.4,"y":0.734},{"s":"130 nm","x":582.8,"y":0.646},{"s":"130 nm","x":587.1,"y":0.571},{"s":"130 nm","x":592.4,"y":0.504},{"s":"130 nm","x":597.6,"y":0.456},{"s":"130 nm","x":604.6,"y":0.416},{"s":"130 nm","x":613.4,"y":0.385},{"s":"130 nm","x":625.6,"y":0.365},{"s":"130 nm","x":639.6,"y":0.351},{"s":"130 nm","x":653.6,"y":0.345},{"s":"130 nm","x":667.7,"y":0.338},{"s":"130 nm","x":690.1,"y":0.333},{"s":"130 nm","x":707.3,"y":0.331},{"s":"130 nm","x":724.6,"y":0.339},{"s":"130 nm","x":741.8,"y":0.356},{"s":"130 nm","x":759,"y":0.385},{"s":"130 nm","x":776.2,"y":0.429},{"s":"130 nm","x":793.4,"y":0.492},{"s":"130 nm","x":807.2,"y":0.559},{"s":"130 nm","x":821,"y":0.636},{"s":"130 nm","x":833.1,"y":0.699},{"s":"130 nm","x":845.1,"y":0.736},{"s":"130 nm","x":858.4,"y":0.745},{"s":"130 nm","x":869.2,"y":0.729},{"s":"130 nm","x":879.5,"y":0.692},{"s":"130 nm","x":889.9,"y":0.64},{"s":"130 nm","x":900.2,"y":0.581},{"s":"130 nm","x":910.5,"y":0.522},{"s":"130 nm","x":920.9,"y":0.463},{"s":"130 nm","x":931.2,"y":0.407},{"s":"130 nm","x":942.2,"y":0.36},
{"s":"140 nm","x":420.5,"y":0.573},{"s":"140 nm","x":429.6,"y":0.583},{"s":"140 nm","x":438.4,"y":0.587},{"s":"140 nm","x":447.1,"y":0.595},{"s":"140 nm","x":454.1,"y":0.605},{"s":"140 nm","x":461.1,"y":0.619},{"s":"140 nm","x":468.1,"y":0.639},{"s":"140 nm","x":475.1,"y":0.666},{"s":"140 nm","x":482.1,"y":0.697},{"s":"140 nm","x":489.1,"y":0.727},{"s":"140 nm","x":497.9,"y":0.764},{"s":"140 nm","x":506.6,"y":0.788},{"s":"140 nm","x":515.4,"y":0.808},{"s":"140 nm","x":525.9,"y":0.839},{"s":"140 nm","x":534.6,"y":0.879},{"s":"140 nm","x":543.4,"y":0.93},{"s":"140 nm","x":550.4,"y":0.967},{"s":"140 nm","x":557.4,"y":0.995},{"s":"140 nm","x":561.8,"y":0.999},{"s":"140 nm","x":566.1,"y":0.988},{"s":"140 nm","x":571.4,"y":0.954},{"s":"140 nm","x":576.6,"y":0.89},{"s":"140 nm","x":581.9,"y":0.808},{"s":"140 nm","x":587.1,"y":0.72},{"s":"140 nm","x":592.4,"y":0.639},{"s":"140 nm","x":597.6,"y":0.565},{"s":"140 nm","x":603.8,"y":0.49},{"s":"140 nm","x":609.9,"y":0.433},{"s":"140 nm","x":616.9,"y":0.385},{"s":"140 nm","x":625.6,"y":0.348},{"s":"140 nm","x":636.1,"y":0.321},{"s":"140 nm","x":648.4,"y":0.304},{"s":"140 nm","x":664.2,"y":0.294},{"s":"140 nm","x":678.2,"y":0.288},{"s":"140 nm","x":690.1,"y":0.283},{"s":"140 nm","x":715.9,"y":0.277},{"s":"140 nm","x":741.8,"y":0.278},{"s":"140 nm","x":767.6,"y":0.293},{"s":"140 nm","x":784.8,"y":0.315},{"s":"140 nm","x":802.1,"y":0.352},{"s":"140 nm","x":819.3,"y":0.4},{"s":"140 nm","x":836.5,"y":0.463},{"s":"140 nm","x":853.7,"y":0.518},{"s":"140 nm","x":867.5,"y":0.548},{"s":"140 nm","x":885.1,"y":0.56},{"s":"140 nm","x":896.8,"y":0.548},{"s":"140 nm","x":908.8,"y":0.518},{"s":"140 nm","x":920.9,"y":0.477},{"s":"140 nm","x":931.2,"y":0.437},{"s":"140 nm","x":942.2,"y":0.393},
{"s":"150 nm","x":420.5,"y":0.482},{"s":"150 nm","x":429.6,"y":0.496},{"s":"150 nm","x":438.4,"y":0.504},{"s":"150 nm","x":447.1,"y":0.514},{"s":"150 nm","x":454.1,"y":0.525},{"s":"150 nm","x":461.1,"y":0.538},{"s":"150 nm","x":468.1,"y":0.558},{"s":"150 nm","x":475.1,"y":0.585},{"s":"150 nm","x":482.1,"y":0.612},{"s":"150 nm","x":489.1,"y":0.639},{"s":"150 nm","x":497.9,"y":0.663},{"s":"150 nm","x":506.6,"y":0.676},{"s":"150 nm","x":515.4,"y":0.692},{"s":"150 nm","x":525.9,"y":0.72},{"s":"150 nm","x":534.6,"y":0.758},{"s":"150 nm","x":541.6,"y":0.805},{"s":"150 nm","x":548.6,"y":0.862},{"s":"150 nm","x":555.6,"y":0.917},{"s":"150 nm","x":562.6,"y":0.961},{"s":"150 nm","x":567.9,"y":0.99},{"s":"150 nm","x":572.3,"y":0.999},{"s":"150 nm","x":576.6,"y":0.993},{"s":"150 nm","x":581,"y":0.964},{"s":"150 nm","x":586.3,"y":0.923},{"s":"150 nm","x":592.4,"y":0.869},{"s":"150 nm","x":599.4,"y":0.795},{"s":"150 nm","x":606.4,"y":0.7},{"s":"150 nm","x":611.6,"y":0.619},{"s":"150 nm","x":616.9,"y":0.524},{"s":"150 nm","x":622.1,"y":0.436},{"s":"150 nm","x":628.3,"y":0.362},{"s":"150 nm","x":636.1,"y":0.3},{"s":"150 nm","x":644.9,"y":0.27},{"s":"150 nm","x":653.6,"y":0.257},{"s":"150 nm","x":664.2,"y":0.243},{"s":"150 nm","x":678.2,"y":0.236},{"s":"150 nm","x":690.1,"y":0.23},{"s":"150 nm","x":715.9,"y":0.215},{"s":"150 nm","x":741.8,"y":0.208},{"s":"150 nm","x":767.6,"y":0.206},{"s":"150 nm","x":793.4,"y":0.209},{"s":"150 nm","x":819.3,"y":0.23},{"s":"150 nm","x":836.5,"y":0.252},{"s":"150 nm","x":853.7,"y":0.278},{"s":"150 nm","x":871,"y":0.308},{"s":"150 nm","x":888.2,"y":0.334},{"s":"150 nm","x":905.4,"y":0.352},{"s":"150 nm","x":925.2,"y":0.357},{"s":"150 nm","x":936.4,"y":0.356},{"s":"150 nm","x":942.2,"y":0.351},
{"s":"175 nm","x":420.5,"y":0.439},{"s":"175 nm","x":429.6,"y":0.453},{"s":"175 nm","x":438.4,"y":0.463},{"s":"175 nm","x":447.1,"y":0.473},{"s":"175 nm","x":454.1,"y":0.485},{"s":"175 nm","x":461.1,"y":0.5},{"s":"175 nm","x":468.1,"y":0.521},{"s":"175 nm","x":475.1,"y":0.544},{"s":"175 nm","x":482.1,"y":0.571},{"s":"175 nm","x":489.1,"y":0.592},{"s":"175 nm","x":497.9,"y":0.612},{"s":"175 nm","x":506.6,"y":0.624},{"s":"175 nm","x":515.4,"y":0.636},{"s":"175 nm","x":525.9,"y":0.656},{"s":"175 nm","x":532.9,"y":0.687},{"s":"175 nm","x":539.9,"y":0.727},{"s":"175 nm","x":545.1,"y":0.768},{"s":"175 nm","x":550.4,"y":0.815},{"s":"175 nm","x":555.6,"y":0.869},{"s":"175 nm","x":560.9,"y":0.923},{"s":"175 nm","x":566.1,"y":0.964},{"s":"175 nm","x":571.4,"y":0.988},{"s":"175 nm","x":577.5,"y":0.999},{"s":"175 nm","x":581.9,"y":0.995},{"s":"175 nm","x":586.3,"y":0.981},{"s":"175 nm","x":590.6,"y":0.974},{"s":"175 nm","x":595.9,"y":0.971},{"s":"175 nm","x":601.1,"y":0.961},{"s":"175 nm","x":604.6,"y":0.944},{"s":"175 nm","x":608.1,"y":0.91},{"s":"175 nm","x":611.6,"y":0.856},{"s":"175 nm","x":615.1,"y":0.775},{"s":"175 nm","x":618.6,"y":0.673},{"s":"175 nm","x":622.1,"y":0.571},{"s":"175 nm","x":625.6,"y":0.49},{"s":"175 nm","x":630,"y":0.422},{"s":"175 nm","x":636.1,"y":0.361},{"s":"175 nm","x":643.2,"y":0.314},{"s":"175 nm","x":651.9,"y":0.28},{"s":"175 nm","x":660.6,"y":0.257},{"s":"175 nm","x":671.2,"y":0.236},{"s":"175 nm","x":681.7,"y":0.223},{"s":"175 nm","x":690.1,"y":0.212},{"s":"175 nm","x":715.9,"y":0.193},{"s":"175 nm","x":741.8,"y":0.178},{"s":"175 nm","x":767.6,"y":0.172},{"s":"175 nm","x":793.4,"y":0.17},{"s":"175 nm","x":819.3,"y":0.175},{"s":"175 nm","x":845.1,"y":0.19},{"s":"175 nm","x":871,"y":0.215},{"s":"175 nm","x":896.8,"y":0.245},{"s":"175 nm","x":914,"y":0.263},{"s":"175 nm","x":927.8,"y":0.269},{"s":"175 nm","x":942.2,"y":0.272},
{"s":"195 nm","x":420.5,"y":0.286},{"s":"195 nm","x":429.6,"y":0.301},{"s":"195 nm","x":438.4,"y":0.307},{"s":"195 nm","x":447.1,"y":0.315},{"s":"195 nm","x":454.1,"y":0.324},{"s":"195 nm","x":461.1,"y":0.334},{"s":"195 nm","x":468.1,"y":0.348},{"s":"195 nm","x":476.9,"y":0.365},{"s":"195 nm","x":485.6,"y":0.382},{"s":"195 nm","x":492.6,"y":0.394},{"s":"195 nm","x":501.4,"y":0.405},{"s":"195 nm","x":510.1,"y":0.412},{"s":"195 nm","x":518.9,"y":0.417},{"s":"195 nm","x":529.4,"y":0.427},{"s":"195 nm","x":536.4,"y":0.443},{"s":"195 nm","x":541.6,"y":0.463},{"s":"195 nm","x":546.9,"y":0.497},{"s":"195 nm","x":552.1,"y":0.538},{"s":"195 nm","x":557.4,"y":0.592},{"s":"195 nm","x":562.6,"y":0.646},{"s":"195 nm","x":567.9,"y":0.687},{"s":"195 nm","x":573.1,"y":0.714},{"s":"195 nm","x":578.4,"y":0.741},{"s":"195 nm","x":583.6,"y":0.761},{"s":"195 nm","x":588.9,"y":0.774},{"s":"195 nm","x":594.1,"y":0.795},{"s":"195 nm","x":599.4,"y":0.835},{"s":"195 nm","x":604.6,"y":0.896},{"s":"195 nm","x":609,"y":0.954},{"s":"195 nm","x":612.5,"y":0.988},{"s":"195 nm","x":616,"y":0.999},{"s":"195 nm","x":619.5,"y":0.988},{"s":"195 nm","x":623,"y":0.944},{"s":"195 nm","x":626.5,"y":0.863},{"s":"195 nm","x":630,"y":0.741},{"s":"195 nm","x":633.5,"y":0.605},{"s":"195 nm","x":637,"y":0.483},{"s":"195 nm","x":640.5,"y":0.402},{"s":"195 nm","x":644.9,"y":0.328},{"s":"195 nm","x":650.2,"y":0.27},{"s":"195 nm","x":655.4,"y":0.236},{"s":"195 nm","x":660.6,"y":0.209},{"s":"195 nm","x":667.7,"y":0.185},{"s":"195 nm","x":678.2,"y":0.165},{"s":"195 nm","x":690,"y":0.152},{"s":"195 nm","x":700.5,"y":0.138},{"s":"195 nm","x":715.9,"y":0.127},{"s":"195 nm","x":741.8,"y":0.112},{"s":"195 nm","x":767.6,"y":0.102},{"s":"195 nm","x":793.4,"y":0.095},{"s":"195 nm","x":819.3,"y":0.09},{"s":"195 nm","x":845.1,"y":0.087},{"s":"195 nm","x":871,"y":0.087},{"s":"195 nm","x":896.8,"y":0.093},{"s":"195 nm","x":922.6,"y":0.101},{"s":"195 nm","x":942.2,"y":0.107}
]},
"vconcat":[
{
"width":1521,"height":1140,
"title":{"text":"a)","anchor":"start","frame":"group","fontSize":80,"fontWeight":"normal","dx":-214,"offset":-51.5,"baseline":"alphabetic"},
"layer":[
{"data":{"name":"expt"},
"mark":{"type":"line","strokeWidth":6.5,"clip":true,"strokeJoin":"round"},
"encoding":{
"x":{"field":"x","type":"quantitative","scale":{"domain":[420.4,942.2],"nice":false,"zero":false},
"axis":{"orient":"bottom","values":[450,500,550,600,650,700,750,800,850,900],"tickSize":{"condition":{"test":"datum.value % 100 === 0","value":22},"value":12},"labelExpr":"datum.value % 100 === 0 ? datum.label : ''","labelPadding":14,"labelOverlap":false,"title":"Wavelength (nm)","titleX":772,"titleY":188,"titleBaseline":"alphabetic","titleAlign":"center"}},
"y":{"field":"y","type":"quantitative","scale":{"domain":[0,1.1],"nice":false,"zero":false},
"axis":{"orient":"left","values":[0,0.1,0.2,0.3,0.4,0.5,0.6,0.7,0.8,0.9,1],"format":".1f","tickSize":{"condition":{"test":"round(datum.value*10) % 2 === 0","value":22},"value":12},"labelExpr":"round(datum.value*10) % 2 === 0 ? datum.label : ''","labelPadding":15,"labelOverlap":false,"title":"Normalised CL Intensity (a.u.)","titlePadding":47,"titleY":614}},
"color":{"field":"s","type":"nominal","scale":{"domain":["110 nm","130 nm","140 nm","150 nm","175 nm","195 nm"],"range":["#7500EF","#00DEFF","#A6FF00","#FF8A00","#FF0000","#A30000"]},
"legend":{"orient":"none","legendX":951,"legendY":18,"title":"Au NDs on 50 nm SiN","titleFontSize":58,"titleFontWeight":"normal","titleColor":"black","titleFont":"Liberation Sans","titlePadding":10,"titleLimit":0,"labelFontSize":58,"labelColor":"black","labelFont":"Liberation Sans","labelLimit":0,"symbolType":"M-2,0H8","symbolSize":707,"symbolStrokeWidth":6,"labelOffset":92,"rowPadding":12.5,"padding":0}}}},
{"data":{"values":[{"y":1.1}]},
"mark":{"type":"rule","strokeWidth":3,"color":"black"},
"encoding":{"y":{"field":"y","type":"quantitative"}}},
{"data":{"values":[{"x":428.7,"y":0.043,"t":"Experiment"}]},
"mark":{"type":"text","fontSize":67,"fontWeight":"bold","align":"left","baseline":"alphabetic","color":"black"},
"encoding":{"x":{"field":"x","type":"quantitative"},"y":{"field":"y","type":"quantitative"},"text":{"field":"t"}}},
{"data":{"values":[{"x":541,"x2":645,"y":1.044}]},
"mark":{"type":"rule","strokeWidth":15,"color":"black","strokeCap":"butt"},
"encoding":{"x":{"field":"x","type":"quantitative"},"x2":{"field":"x2"},"y":{"field":"y","type":"quantitative"}}},
{"data":{"values":[{"x":657,"y":1.044}]},
"mark":{"type":"point","shape":"M0,0L-2,-1L-2,1Z","size":2247,"filled":true,"color":"black","opacity":1,"strokeWidth":0},
"encoding":{"x":{"field":"x","type":"quantitative"},"y":{"field":"y","type":"quantitative"}}}
]},
{
"width":1521,"height":1140,
"title":{"text":"b)","anchor":"start","frame":"group","fontSize":80,"fontWeight":"normal","dx":-214,"offset":-51,"baseline":"alphabetic"},
"layer":[
{"data":{"name":"sim"},
"mark":{"type":"line","strokeWidth":6.5,"clip":true,"interpolate":"monotone","strokeJoin":"round"},
"encoding":{
"x":{"field":"x","type":"quantitative","scale":{"domain":[420.4,942.2],"nice":false,"zero":false},
"axis":{"orient":"bottom","values":[450,500,550,600,650,700,750,800,850,900],"tickSize":{"condition":{"test":"datum.value % 100 === 0","value":22},"value":12},"labelExpr":"datum.value % 100 === 0 ? datum.label : ''","labelPadding":14,"labelOverlap":false,"title":"Wavelength (nm)","titleX":772,"titleY":172,"titleBaseline":"alphabetic","titleAlign":"center"}},
"y":{"field":"y","type":"quantitative","scale":{"domain":[0,1.1],"nice":false,"zero":false},
"axis":{"orient":"left","values":[0,0.1,0.2,0.3,0.4,0.5,0.6,0.7,0.8,0.9,1],"format":".1f","tickSize":{"condition":{"test":"round(datum.value*10) % 2 === 0","value":22},"value":12},"labelExpr":"round(datum.value*10) % 2 === 0 ? datum.label : ''","labelPadding":15,"labelOverlap":false,"title":"Normalised CL Intensity (a.u.)","titlePadding":47,"titleY":610}},
"color":{"field":"s","type":"nominal","scale":{"domain":["110 nm","130 nm","140 nm","150 nm","175 nm","195 nm"],"range":["#7500EF","#00DEFF","#A6FF00","#FF8A00","#FF0000","#A30000"]},"legend":null}}},
{"data":{"values":[{"y":1.1}]},
"mark":{"type":"rule","strokeWidth":3,"color":"black"},
"encoding":{"y":{"field":"y","type":"quantitative"}}},
{"data":{"values":[{"x":431,"y":0.039,"t":"Simulation"}]},
"mark":{"type":"text","fontSize":67,"fontWeight":"bold","align":"left","baseline":"alphabetic","color":"black"},
"encoding":{"x":{"field":"x","type":"quantitative"},"y":{"field":"y","type":"quantitative"},"text":{"field":"t"}}},
{"data":{"values":[{"x":506.4,"y":1.057,"t":"RBM"},{"x":647.3,"y":1.058,"t":"RBM"},{"x":828.7,"y":1.07,"t":"DM"},{"x":865.8,"y":0.971,"t":"DM"},{"x":891,"y":0.795,"t":"DM"},{"x":924.4,"y":0.5735,"t":"DM"}]},
"mark":{"type":"text","fontSize":54,"align":"center","baseline":"middle","color":"black"},
"encoding":{"x":{"field":"x","type":"quantitative"},"y":{"field":"y","type":"quantitative"},"text":{"field":"t"}}},
{"data":{"values":[{"x":542,"y":1.08,"y2":1.014},{"x":552.8,"y":1.08,"y2":1.014},{"x":561.2,"y":1.08,"y2":1.014},{"x":571.9,"y":1.08,"y2":1.014},{"x":591.8,"y":1.08,"y2":1.014},{"x":616.2,"y":1.08,"y2":1.014},{"x":831.5,"y":1.028,"y2":0.991},{"x":856.8,"y":0.93,"y2":0.76},{"x":884.6,"y":0.747,"y2":0.585},{"x":927.3,"y":0.5255,"y2":0.367}]},
"layer":[
{"mark":{"type":"rule","strokeWidth":1.6,"color":"#333333"},
"encoding":{"x":{"field":"x","type":"quantitative"},"y":{"field":"y","type":"quantitative"},"y2":{"field":"y2"}}},
{"mark":{"type":"point","shape":"M-0.5,-2L0.5,-2L0,0Z","size":729,"filled":true,"color":"black","opacity":1,"strokeWidth":0},
"encoding":{"x":{"field":"x","type":"quantitative"},"y":{"field":"y2","type":"quantitative"}}}
]}
]}
]
}
